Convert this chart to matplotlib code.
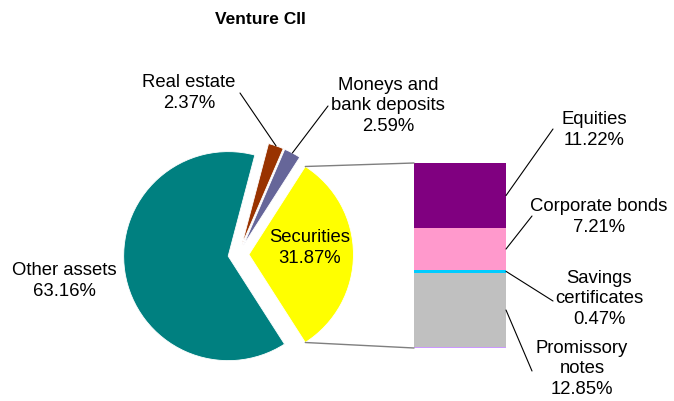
import matplotlib
matplotlib.use('Agg')
import matplotlib.pyplot as plt
from matplotlib.patches import ConnectionPatch
import numpy as np

plt.rcParams['font.family'] = ['Liberation Sans', 'DejaVu Sans']

# pie: counterclockwise from the split-off slice
pie_labels = ['Securities', 'Moneys and\nbank deposits', 'Real estate', 'Other assets']
pie_values = [31.87, 2.59, 2.37, 63.16]
pie_colors = ['#FFFF00', '#666699', '#993300', '#008080']

# stacked bar: breakdown of Securities, bottom to top
bar_labels = ['', 'Promissory\nnotes', 'Savings\ncertificates', 'Corporate bonds', 'Equities']
bar_values = [0.12, 12.85, 0.47, 7.21, 11.22]
bar_colors = ['#CC99FF', '#C0C0C0', '#00CCFF', '#FF99CC', '#800080']

W, H = 674, 402
FS = 13.3
LS = 1.28
fig = plt.figure(figsize=(W / 100, H / 100), dpi=100)

# pie
cx, cy, r_px, half = 238.5, 255.5, 104.5, 140
ax_pie = fig.add_axes([(cx - half) / W, (H - cy - half) / H, 2 * half / W, 2 * half / H])
start = -pie_values[0] / sum(pie_values) * 180
wedges, _ = ax_pie.pie(pie_values, colors=pie_colors, explode=[0.1] * len(pie_values),
                       startangle=start, counterclock=True,
                       wedgeprops=dict(edgecolor='white', linewidth=0.6))
lim = half / r_px
ax_pie.set_xlim(-lim, lim)
ax_pie.set_ylim(-lim, lim)
ax_pie.set_aspect('equal')
ax_pie.axis('off')

# bar
bx0, bx1, by0, by1 = 414, 506, 164, 349
ax_bar = fig.add_axes([bx0 / W, (H - by1) / H, (bx1 - bx0) / W, (by1 - by0) / H])
bottoms = np.concatenate([[0], np.cumsum(bar_values)[:-1]])
ax_bar.bar(0, bar_values, bottom=bottoms, width=1, color=bar_colors, linewidth=0)
total = sum(bar_values)
ax_bar.set_xlim(-0.5, 0.5)
ax_bar.set_ylim(0, total)
ax_bar.axis('off')

# overlay in pixel coords (y down) for labels, above the other axes
ax_ov = fig.add_axes([0, 0, 1, 1], zorder=10)
ax_ov.set_xlim(0, W)
ax_ov.set_ylim(H, 0)
ax_ov.axis('off')

# connectors between split slice and bar
w0 = wedges[0]
for ang, yb in ((w0.theta2, total), (w0.theta1, 0)):
    p = (w0.center[0] + w0.r * np.cos(np.radians(ang)), w0.center[1] + w0.r * np.sin(np.radians(ang)))
    fig.add_artist(ConnectionPatch(xyA=p, coordsA=ax_pie.transData, xyB=(-0.5, yb),
                                   coordsB=ax_bar.transData, color='#7f7f7f', lw=1.0))

# labels
pie_pos = [(310, 248), (388, 106), (189, 93), (64, 281)]
pie_leader = [None, (328, 107), (240, 94), None]
for w, lab, v, pos, ld in zip(wedges, pie_labels, pie_values, pie_pos, pie_leader):
    ax_ov.text(pos[0], pos[1], f'{lab}\n{v:.2f}%', ha='center', va='center',
               fontsize=FS, linespacing=LS)
    if ld is not None:
        mid = np.radians((w.theta1 + w.theta2) / 2)
        a = (w.center[0] + w.r * np.cos(mid), w.center[1] + w.r * np.sin(mid))
        fig.add_artist(ConnectionPatch(xyA=ld, coordsA=ax_ov.transData, xyB=a,
                                       coordsB=ax_pie.transData, color='black', lw=0.8))

bar_pos = [None, (582, 369), (599, 299), (599, 217), (594, 130)]
bar_leader = [None, (532, 372), (553, 302), (532, 217), (553, 130)]
for lab, v, b, pos, ld in zip(bar_labels, bar_values, bottoms, bar_pos, bar_leader):
    if pos is None:
        continue
    ax_ov.text(pos[0], pos[1], f'{lab}\n{v:.2f}%', ha='center', va='center',
               fontsize=FS, linespacing=LS)
    fig.add_artist(ConnectionPatch(xyA=ld, coordsA=ax_ov.transData, xyB=(0.5, b + v / 2),
                                   coordsB=ax_bar.transData, color='black', lw=0.8))

fig.text(260 / W, 1 - 20 / H, 'Venture CII', ha='center', va='center',
         fontsize=12.5, fontweight='bold')

fig.savefig('out.png', dpi=100)
